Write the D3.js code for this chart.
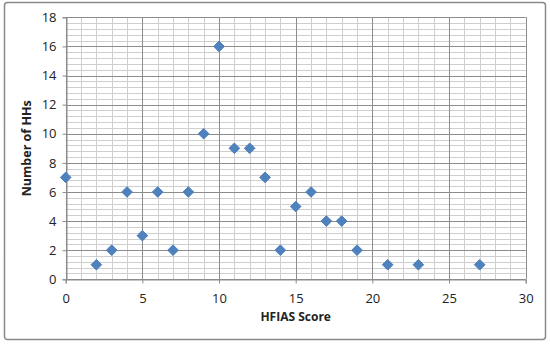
<!DOCTYPE html>
<html><head><meta charset="utf-8">
<script src="https://cdn.jsdelivr.net/npm/d3@7"></script>
<style>body{margin:0;background:#fff}svg{display:block}</style>
</head><body>
<svg id="c" width="550" height="345"></svg>
<script>
const scores = [0,2,3,4,5,6,7,8,9,10,11,12,13,14,15,16,17,18,19,21,23,27];
const counts = [7,1,2,6,3,6,2,6,10,16,9,9,7,2,5,6,4,4,2,1,1,1];
const xTicks = [0,5,10,15,20,25,30];
const yTicks = [0,2,4,6,8,10,12,14,16,18];
const xTitle = "HFIAS Score";
const yTitle = "Number of HHs";

const svg = d3.select("#c");
const font = "Open Sans, Lato, sans-serif";
svg.append("rect").attr("x",4.5).attr("y",2.5).attr("width",541).attr("height",337)
  .attr("rx",3).attr("fill","#fff").attr("stroke","#8a8a8a").attr("stroke-width",1.5);

const x = d3.scaleLinear().domain([0,30]).range([65.7,525.7]);
const y = d3.scaleLinear().domain([0,18]).range([279.3,17.3]);

const g = svg.append("g");
// minor grid
g.selectAll(".mx").data(d3.range(0,30.01,1)).join("line")
  .attr("x1",d=>Math.round(x(d))+0.5).attr("x2",d=>Math.round(x(d))+0.5)
  .attr("y1",y(0)).attr("y2",y(18)).attr("stroke","#cfcfcf").attr("stroke-width",1);
g.selectAll(".my").data(d3.range(0,45.5,1).map(i=>i*0.4)).join("line")
  .attr("y1",d=>Math.round(y(d))+0.5).attr("y2",d=>Math.round(y(d))+0.5)
  .attr("x1",x(0)).attr("x2",x(30)).attr("stroke","#cfcfcf").attr("stroke-width",1);
// major grid
g.selectAll(".Mx").data(xTicks).join("line")
  .attr("x1",d=>Math.round(x(d))+0.5).attr("x2",d=>Math.round(x(d))+0.5)
  .attr("y1",y(0)).attr("y2",y(18)).attr("stroke","#8c8c8c").attr("stroke-width",1);
g.selectAll(".My").data(yTicks).join("line")
  .attr("y1",d=>Math.round(y(d))+0.5).attr("y2",d=>Math.round(y(d))+0.5)
  .attr("x1",x(0)).attr("x2",x(30)).attr("stroke","#8c8c8c").attr("stroke-width",1);

// axes
const xa = svg.append("g").attr("transform",`translate(0,${Math.round(y(0))+0.5})`)
  .call(d3.axisBottom(x).tickValues(xTicks).tickSize(4).tickPadding(10));
const ya = svg.append("g").attr("transform",`translate(${Math.round(x(0))+0.5},0)`)
  .call(d3.axisLeft(y).tickValues(yTicks).tickSize(4).tickPadding(6));
[xa,ya].forEach(a=>{
  a.select(".domain").attr("stroke","#8c8c8c");
  a.selectAll(".tick line").attr("stroke","#8c8c8c");
  a.selectAll("text").attr("font-family",font).attr("font-size",13).attr("fill","#222");
});

// points
svg.append("g").selectAll("path").data(scores.map((s,i)=>[s,counts[i]])).join("path")
  .attr("d",d3.symbol(d3.symbolDiamond2? d3.symbolDiamond2 : d3.symbolDiamond, 72))
  .attr("transform",d=>`translate(${x(d[0])},${y(d[1])})`)
  .attr("fill","#4f81bd").attr("stroke","#4a7ebb").attr("stroke-width",1);

svg.append("text").attr("x",x(15)).attr("y",321).attr("text-anchor","middle")
  .attr("font-family",font).attr("font-weight","bold").attr("font-size",12).attr("fill","#222").text(xTitle);
svg.append("text").attr("transform",`translate(31,${y(9)}) rotate(-90)`).attr("text-anchor","middle")
  .attr("font-family",font).attr("font-weight","bold").attr("font-size",12.5).attr("fill","#222").text(yTitle);
</script>
</body></html>
